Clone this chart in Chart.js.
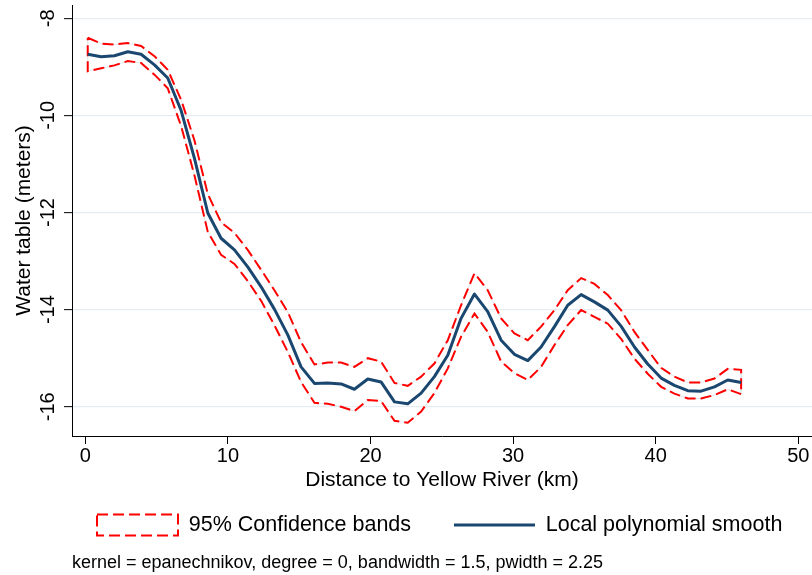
<!DOCTYPE html>
<html>
<head>
<meta charset="utf-8">
<script src="https://cdn.jsdelivr.net/npm/chart.js@4.4.1/dist/chart.umd.min.js"></script>
<style>
html,body{margin:0;padding:0;background:#fff;}
canvas{display:block;}
</style>
</head>
<body>
<canvas id="c" width="812" height="575"></canvas>
<script>
// ---- data ----
const distanceKm = [0.17, 1.11, 2.04, 2.98, 3.91, 4.85, 5.78, 6.72, 7.65, 8.59,
  9.52, 10.46, 11.39, 12.33, 13.26, 14.20, 15.13, 16.07, 17.00, 17.94,
  18.87, 19.81, 20.74, 21.68, 22.61, 23.55, 24.48, 25.42, 26.35, 27.29,
  28.22, 29.16, 30.09, 31.03, 31.96, 32.90, 33.83, 34.77, 35.70, 36.64,
  37.57, 38.51, 39.44, 40.38, 41.31, 42.25, 43.18, 44.12, 45.05, 45.99];

const smoothValues = [-8.74, -8.79, -8.77, -8.69, -8.74, -8.96, -9.23, -9.90, -10.88, -12.01,
  -12.53, -12.77, -13.12, -13.53, -13.99, -14.52, -15.18, -15.52, -15.51, -15.53,
  -15.64, -15.43, -15.49, -15.90, -15.94, -15.72, -15.38, -14.94, -14.18, -13.68,
  -14.04, -14.63, -14.92, -15.05, -14.77, -14.35, -13.91, -13.69, -13.84, -14.01,
  -14.34, -14.77, -15.12, -15.41, -15.56, -15.67, -15.68, -15.59, -15.45, -15.50];

const upperBand = [-8.40, -8.52, -8.54, -8.51, -8.57, -8.78, -9.06, -9.68, -10.51, -11.62,
  -12.20, -12.42, -12.77, -13.18, -13.60, -14.05, -14.67, -15.13, -15.09, -15.09,
  -15.18, -15.00, -15.07, -15.51, -15.57, -15.38, -15.11, -14.63, -13.91, -13.25,
  -13.60, -14.18, -14.49, -14.63, -14.35, -14.01, -13.60, -13.35, -13.47, -13.70,
  -14.01, -14.46, -14.83, -15.20, -15.38, -15.50, -15.50, -15.42, -15.22, -15.24];

const lowerBand = [-9.09, -9.03, -8.97, -8.88, -8.92, -9.16, -9.44, -10.22, -11.23, -12.40,
  -12.87, -13.06, -13.41, -13.82, -14.32, -14.87, -15.49, -15.92, -15.94, -16.00,
  -16.09, -15.86, -15.88, -16.29, -16.33, -16.10, -15.72, -15.21, -14.56, -14.08,
  -14.46, -15.07, -15.31, -15.45, -15.18, -14.73, -14.32, -14.01, -14.15, -14.29,
  -14.60, -15.01, -15.32, -15.59, -15.73, -15.83, -15.83, -15.76, -15.64, -15.74];

const xTickValues = [0, 10, 20, 30, 40, 50];
const xTickLabels = ['0', '10', '20', '30', '40', '50'];
const yTickValues = [-16, -14, -12, -10, -8];
const yTickLabels = ['-16', '-14', '-12', '-10', '-8'];
const seriesLabels = ['95% Confidence bands', 'Local polynomial smooth'];
const xTitle = 'Distance to Yellow River (km)';
const yTitle = 'Water table (meters)';
const noteText = 'kernel = epanechnikov, degree = 0, bandwidth = 1.5, pwidth = 2.25';

// ---- build library data ----
const smoothPts = distanceKm.map((x, i) => ({x: x, y: smoothValues[i]}));
const bandPts = distanceKm.map((x, i) => ({x: x, y: upperBand[i]}))
  .concat(distanceKm.map((x, i) => ({x: x, y: lowerBand[i]})).reverse());
bandPts.push(bandPts[0]);

const NAVY = '#1a476f';
const RED = '#ff0000';
const LEGEND_GAP = '\u00a0\u00a0\u00a0';

Chart.defaults.font.family = "'Liberation Sans', Arial, Helvetica, sans-serif";
Chart.defaults.color = '#000';

new Chart(document.getElementById('c'), {
  type: 'line',
  data: {
    datasets: [
      {label: seriesLabels[1], data: smoothPts, borderColor: NAVY, borderWidth: 3,
       pointRadius: 0, tension: 0, fill: false, order: 0, borderJoinStyle: 'round'},
      {label: seriesLabels[0], data: bandPts, borderColor: RED, borderWidth: 2,
       borderDash: [11, 5], pointRadius: 0, tension: 0, fill: false, order: 1},
      {label: 'band-underlay', data: bandPts, borderColor: '#dfe6eb', borderWidth: 1,
       pointRadius: 0, tension: 0, fill: false, order: 2}
    ]
  },
  options: {
    responsive: false,
    animation: false,
    devicePixelRatio: 1,
    layout: {padding: {left: 0, right: 0, top: 0, bottom: 0.7}},
    scales: {
      x: {
        type: 'linear',
        min: -0.933, max: 50.96,
        afterBuildTicks: s => { s.ticks = xTickValues.map(v => ({value: v})); },
        ticks: {callback: (v, i) => xTickLabels[i], color: '#000', font: {size: 20},
                padding: 0, maxRotation: 0, autoSkip: false},
        grid: {drawOnChartArea: false, tickLength: 8, tickColor: '#000', tickWidth: 1},
        border: {color: '#000', width: 1},
        title: {display: true, text: xTitle, color: '#000', font: {size: 21},
                padding: {top: 0, bottom: -4}}
      },
      y: {
        type: 'linear',
        min: -16.603, max: -7.726,
        afterBuildTicks: s => { s.ticks = yTickValues.map(v => ({value: v})); },
        ticks: {callback: (v, i) => yTickLabels[i], minRotation: 90, maxRotation: 90,
                crossAlign: 'center', padding: 1, color: '#000',
                font: {size: 20, lineHeight: 0.4}, autoSkip: false},
        grid: {color: '#e6edf2', lineWidth: 1.3, tickColor: '#000', tickLength: 8, tickWidth: 1},
        border: {color: '#000', width: 1},
        title: {display: true, text: yTitle, color: '#000', font: {size: 21},
                padding: {top: 11.4, bottom: 17.4}}
      }
    },
    plugins: {
      legend: {
        position: 'bottom',
        fullSize: false,
        align: 'start',
        labels: {
          usePointStyle: true,
          pointStyleWidth: 81,
          boxHeight: 21,
          padding: 25,
          color: '#000',
          font: {size: 21.5},
          generateLabels: () => [
            {text: seriesLabels[0] + LEGEND_GAP, fillStyle: '#ffffff', strokeStyle: RED, lineWidth: 2,
             lineDash: [11, 5], pointStyle: 'rect', hidden: false, datasetIndex: 1, fontColor: '#000'},
            {text: seriesLabels[1], fillStyle: NAVY, strokeStyle: NAVY, lineWidth: 3,
             lineDash: [], pointStyle: 'line', hidden: false, datasetIndex: 0, fontColor: '#000'}
          ]
        }
      },
      subtitle: {
        display: true, text: noteText, position: 'bottom', align: 'start', fullSize: false,
        color: '#000', font: {size: 18, weight: 'normal'}, padding: {top: 7, bottom: 0}
      },
      tooltip: {enabled: false}
    }
  }
});
</script>
</body>
</html>
